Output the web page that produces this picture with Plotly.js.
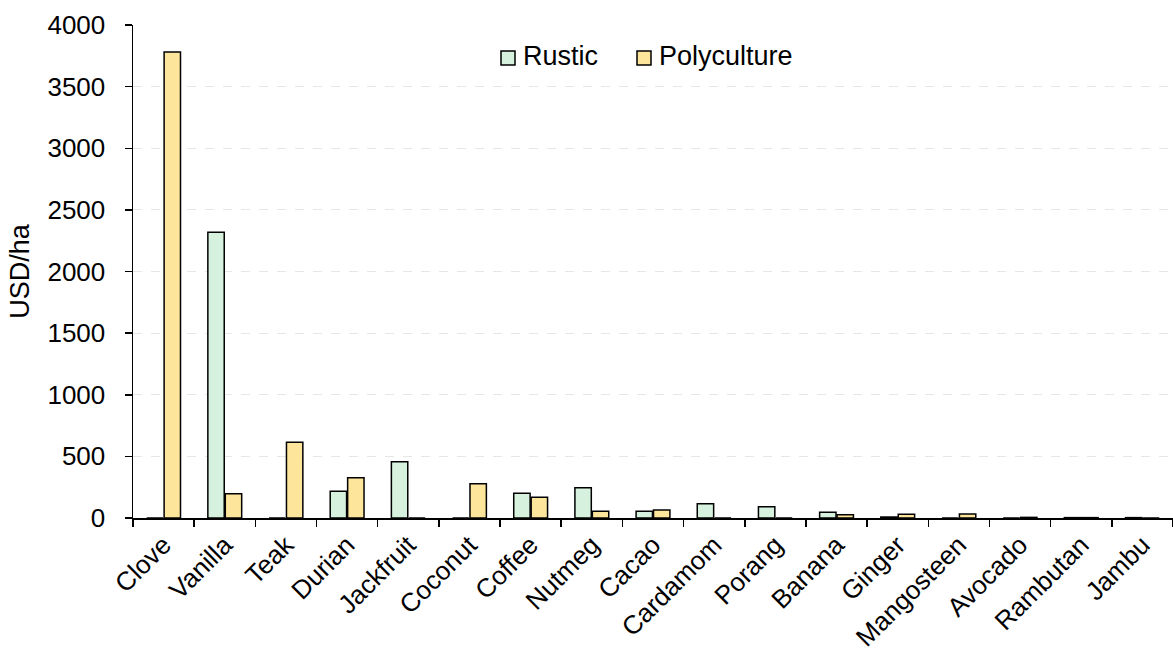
<!DOCTYPE html>
<html>
<head>
<meta charset="utf-8">
<script src="https://cdn.plot.ly/plotly-3.0.1.min.js"></script>
<style>html,body{margin:0;padding:0;background:#fff;}#chart{width:1173px;height:658px;}</style>
</head>
<body>
<div id="chart"></div>
<script>
const categories = ["Clove","Vanilla","Teak","Durian","Jackfruit","Coconut","Coffee","Nutmeg","Cacao","Cardamom","Porang","Banana","Ginger","Mangosteen","Avocado","Rambutan","Jambu"];
const rustic =      [0, 2318, 0, 217, 457, 0, 201, 246, 54, 116, 92, 46, 8, 0, 0, 3, 3];
const polyculture = [3781, 196, 614, 326, 0, 277, 168, 54, 65, 0, 0, 27, 30, 32, 5, 3, 0];
const yTicks = [0,500,1000,1500,2000,2500,3000,3500,4000];
const seriesNames = ["Rustic", "Polyculture"];
const seriesColors = ["#d6f1dd", "#fde59c"];

const fam = "Liberation Sans, Arial, sans-serif";
const W = 1173, H = 658, ML = 133, MR = 0, MT = 25, MB = 140;
const PW = W - ML - MR, PH = H - MT - MB;
const px2x = p => (p - ML) / PW;
const py2y = p => (H - MB - p) / PH;

const traces = [
  {type: "bar", name: seriesNames[0], x: categories, y: rustic,
   marker: {color: seriesColors[0], line: {color: "#000", width: 1.5}}},
  {type: "bar", name: seriesNames[1], x: categories, y: polyculture,
   marker: {color: seriesColors[1], line: {color: "#000", width: 1.5}}}
];

// legend drawn manually (positions in pixels)
const legendItems = [{sx: 501, tx: 521}, {sx: 637, tx: 657}];
const legendY = 56;
const shapes = legendItems.map((it, i) => ({
  type: "rect", xref: "paper", yref: "paper",
  x0: px2x(it.sx), x1: px2x(it.sx + 14), y0: py2y(legendY + 9), y1: py2y(legendY - 5),
  fillcolor: seriesColors[i], line: {color: "#000", width: 1.5}
}));
const annotations = legendItems.map((it, i) => ({
  xref: "paper", yref: "paper", x: px2x(it.tx), y: py2y(legendY), xanchor: "left", yanchor: "middle",
  text: seriesNames[i], showarrow: false, font: {family: fam, size: 27, color: "#000"}
}));

const layout = {
  width: W, height: H,
  margin: {l: ML, r: MR, t: MT, b: MB},
  paper_bgcolor: "#fff", plot_bgcolor: "#fff",
  font: {family: fam, size: 24, color: "#000"},
  barmode: "group", bargap: 0.43, bargroupgap: 0.06,
  showlegend: false,
  shapes: shapes,
  annotations: annotations,
  xaxis: {type: "category", tickangle: -45, tickson: "boundaries", ticks: "outside", ticklen: 7,
          tickwidth: 1.5, tickcolor: "#000", showline: true, linecolor: "#000", linewidth: 1.5,
          showgrid: false, tickfont: {family: fam, size: 26, color: "#000"}, automargin: false},
  yaxis: {range: [0, 4000], tickvals: yTicks, ticktext: yTicks.map(String), ticks: "outside", ticklen: 7,
          tickwidth: 1.5, tickcolor: "#000", showline: true, linecolor: "#000", linewidth: 1.5,
          ticklabelstandoff: 14,
          showgrid: true, gridcolor: "#e6e6e6", gridwidth: 1, griddash: "dash", zeroline: false,
          tickfont: {family: fam, size: 26, color: "#000"},
          title: {text: "USD/ha", font: {family: fam, size: 27, color: "#000"}, standoff: 10},
          automargin: false}
};

Plotly.newPlot("chart", traces, layout, {displayModeBar: false, staticPlot: true});
</script>
</body>
</html>
